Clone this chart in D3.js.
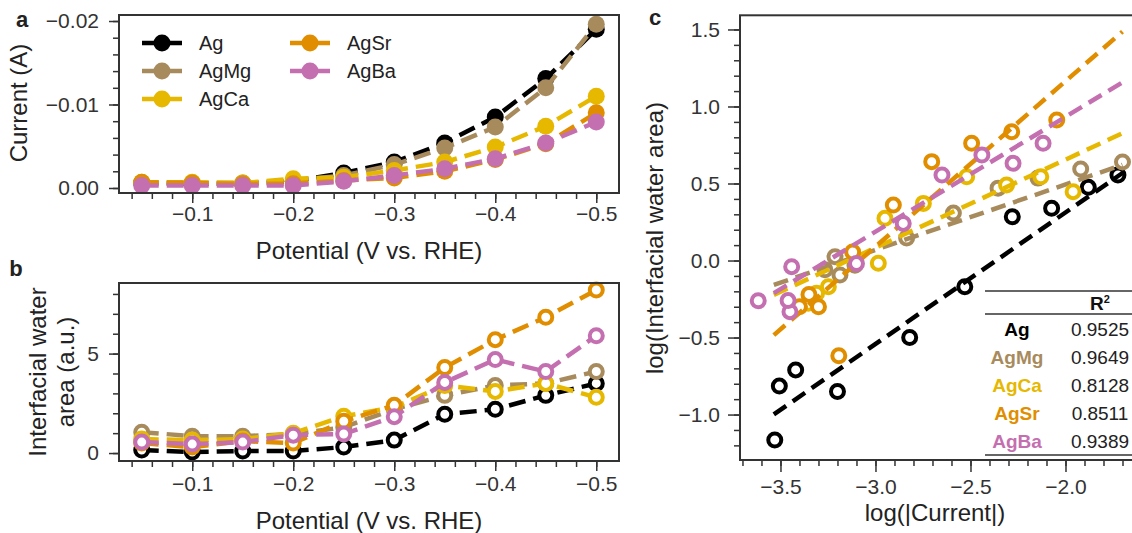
<!DOCTYPE html>
<html>
<head>
<meta charset="utf-8">
<script src="https://cdn.jsdelivr.net/npm/d3@7"></script>
<style>
  body { margin: 0; background: #fff; }
  svg { display: block; font-family: "Liberation Sans", Arial, sans-serif; }
</style>
</head>
<body>
<div id="chart"></div>
<script>
// ---- data ----
var names = ["Ag", "AgMg", "AgCa", "AgSr", "AgBa"];
var colors = ["#000000", "#a88b5c", "#e6b800", "#e08e00", "#c46fb0"];
var potentials = [-0.05, -0.1, -0.15, -0.2, -0.25, -0.3, -0.35, -0.4, -0.45, -0.5];

// panel a: current (A)
var currentAg   = [-0.0006, -0.0005, -0.0005, -0.0008, -0.0018, -0.0031, -0.0054, -0.0085, -0.0131, -0.0190];
var currentAgMg = [-0.0006, -0.0006, -0.0006, -0.0009, -0.0015, -0.0028, -0.0048, -0.0073, -0.0120, -0.0196];
var currentAgCa = [-0.0007, -0.0007, -0.0006, -0.0011, -0.0013, -0.0021, -0.0031, -0.0049, -0.0074, -0.0110];
var currentAgSr = [-0.0007, -0.0006, -0.0005, -0.0005, -0.0009, -0.0012, -0.0020, -0.0034, -0.0053, -0.0090];
var currentAgBa = [-0.0003, -0.0003, -0.0003, -0.0003, -0.0008, -0.0015, -0.0023, -0.0035, -0.0054, -0.0079];

// panel b: interfacial water area (a.u.)
var areaAg   = [0.15, 0.05, 0.1, 0.1, 0.3, 0.65, 1.95, 2.2, 2.9, 3.5];
var areaAgMg = [1.05, 0.85, 0.85, 0.95, 1.3, 2.2, 2.9, 3.4, 3.5, 4.1];
var areaAgCa = [0.7, 0.65, 0.7, 1.0, 1.85, 2.3, 3.4, 3.1, 3.5, 2.8];
var areaAgSr = [0.5, 0.3, 0.6, 0.5, 1.6, 2.4, 4.3, 5.7, 6.83, 8.2];
var areaAgBa = [0.55, 0.45, 0.55, 0.9, 0.96, 1.83, 3.55, 4.7, 4.1, 5.9];

// panel c: log-log points
var logCurAg   = [-3.53, -3.506, -3.42, -3.20, -2.82, -2.53, -2.28, -2.073, -1.88, -1.724];
var logAreaAg  = [-1.165, -0.815, -0.71, -0.85, -0.50, -0.17, 0.284, 0.339, 0.475, 0.555];
var logCurAgMg  = [-3.266, -3.213, -3.187, -3.108, -2.836, -2.59, -2.355, -2.145, -1.92, -1.70];
var logAreaAgMg = [-0.06, 0.025, -0.094, -0.03, 0.146, 0.308, 0.47, 0.535, 0.594, 0.64];
var logCurAgCa  = [-3.354, -3.31, -3.248, -2.985, -2.95, -2.748, -2.52, -2.31, -2.13, -1.96];
var logAreaAgCa = [-0.278, -0.213, -0.17, -0.018, 0.274, 0.371, 0.544, 0.49, 0.544, 0.447];
var logCurAgSr  = [-3.40, -3.193, -3.35, -3.30, -3.12, -2.906, -2.704, -2.494, -2.283, -2.046];
var logAreaAgSr = [-0.30, -0.618, -0.22, -0.30, 0.055, 0.36, 0.642, 0.761, 0.836, 0.912];
var logCurAgBa  = [-3.617, -3.45, -3.46, -3.441, -3.10, -2.854, -2.65, -2.44, -2.276, -2.118];
var logAreaAgBa = [-0.261, -0.332, -0.26, -0.04, -0.02, 0.241, 0.555, 0.685, 0.631, 0.761];

// linear fits (slope, intercept) and R2
var fitSlope = [0.854, 0.425, 0.572, 1.074, 0.746];
var fitIntercept = [2.020, 1.344, 1.799, 3.312, 2.425];
var fitRange = [-3.535, -1.70];
var r2Values = ["0.9525", "0.9649", "0.8128", "0.8511", "0.9389"];

// ticks
var potMajor = [-0.1, -0.2, -0.3, -0.4, -0.5];
var potMinor = d3.range(-0.04, -0.5001, -0.02);
var curMajor = [0, -0.01, -0.02];
var curMinor = d3.range(0, -0.0201, -0.002);
var areaMajor = [0, 5];
var areaMinor = d3.range(0, 8.01, 1);
var logCurMajor = [-3.5, -3.0, -2.5, -2.0];
var logCurMinor = d3.range(-3.7, -1.55, 0.1);
var logAreaMajor = [-1.0, -0.5, 0.0, 0.5, 1.0, 1.5];
var logAreaMinor = d3.range(-1.2, 1.51, 0.1);

var currents = [currentAg, currentAgMg, currentAgCa, currentAgSr, currentAgBa];
var areas = [areaAg, areaAgMg, areaAgCa, areaAgSr, areaAgBa];
var logCur = [logCurAg, logCurAgMg, logCurAgCa, logCurAgSr, logCurAgBa];
var logArea = [logAreaAg, logAreaAgMg, logAreaAgCa, logAreaAgSr, logAreaAgBa];

// ---- drawing ----
var svg = d3.select("#chart").append("svg")
    .attr("width", 1132)
    .attr("height", 533);

var tickColor = "#333";

function xAxis(scale, yPos, majors, minors, fmt, majLen, minLen, pad) {
    svg.append("g")
        .attr("transform", "translate(0," + yPos + ")")
        .call(d3.axisBottom(scale).tickValues(minors).tickSize(minLen).tickFormat(""))
        .call(function(g) { g.select(".domain").remove(); g.selectAll("line").attr("stroke", tickColor).attr("stroke-width", 1.5); });
    svg.append("g")
        .attr("transform", "translate(0," + yPos + ")")
        .call(d3.axisBottom(scale).tickValues(majors).tickSize(majLen).tickPadding(pad).tickFormat(fmt))
        .call(function(g) {
            g.select(".domain").remove();
            g.selectAll("line").attr("stroke", tickColor).attr("stroke-width", 1.5);
            g.selectAll("text").attr("fill", tickColor).style("font-size", "21px").style("font-family", "Liberation Sans, Arial, sans-serif");
        });
}

function yAxis(scale, xPos, majors, minors, fmt, majLen, minLen, pad) {
    svg.append("g")
        .attr("transform", "translate(" + xPos + ",0)")
        .call(d3.axisLeft(scale).tickValues(minors).tickSize(minLen).tickFormat(""))
        .call(function(g) { g.select(".domain").remove(); g.selectAll("line").attr("stroke", tickColor).attr("stroke-width", 1.5); });
    svg.append("g")
        .attr("transform", "translate(" + xPos + ",0)")
        .call(d3.axisLeft(scale).tickValues(majors).tickSize(majLen).tickPadding(pad).tickFormat(fmt))
        .call(function(g) {
            g.select(".domain").remove();
            g.selectAll("line").attr("stroke", tickColor).attr("stroke-width", 1.5);
            g.selectAll("text").attr("fill", tickColor).style("font-size", "21px").style("font-family", "Liberation Sans, Arial, sans-serif");
        });
}

function frame(x0, y0, x1, y1) {
    svg.append("rect")
        .attr("x", x0).attr("y", y0)
        .attr("width", x1 - x0).attr("height", y1 - y0)
        .attr("fill", "none")
        .attr("stroke", "#333")
        .attr("stroke-width", 2);
}

function label(text, x, y, rotate, size, weight) {
    var t = svg.append("text")
        .attr("text-anchor", "middle")
        .attr("fill", "#222")
        .style("font-size", size + "px")
        .style("font-weight", weight || "normal")
        .text(text);
    if (rotate) t.attr("transform", "translate(" + x + "," + y + ") rotate(-90)");
    else t.attr("x", x).attr("y", y);
    return t;
}

var fmtPot = d3.format(".1f");

// ===== panel a =====
var xa = d3.scaleLinear().domain([-0.0275, -0.5225]).range([119, 619]);
var ya = d3.scaleLinear().domain([0.0006, -0.02072]).range([193, 15]);

xAxis(xa, 193, potMajor, potMinor, fmtPot, 10, 6, 3);
yAxis(ya, 119, curMajor, curMinor, d3.format(".2f"), 10, 6, 10);

var lineA = d3.line()
    .x(function(d, i) { return xa(potentials[i]); })
    .y(function(d) { return ya(d); });

names.forEach(function(n, s) {
    svg.append("path")
        .datum(currents[s])
        .attr("fill", "none")
        .attr("stroke", colors[s])
        .attr("stroke-width", 4.5)
        .attr("stroke-dasharray", "17,8")
        .attr("d", lineA);
    svg.append("g").selectAll("circle")
        .data(currents[s])
        .join("circle")
        .attr("cx", function(d, i) { return xa(potentials[i]); })
        .attr("cy", function(d) { return ya(d); })
        .attr("r", 8.5)
        .attr("fill", colors[s]);
});
frame(119, 15, 619, 193);

// legend
var legendPos = [[142, 43], [142, 71], [142, 99], [290, 43], [290, 71]];
names.forEach(function(n, s) {
    var lg = svg.append("g").attr("transform", "translate(" + legendPos[s][0] + "," + legendPos[s][1] + ")");
    lg.append("line").attr("x1", 0).attr("x2", 40).attr("y1", 0).attr("y2", 0)
        .attr("stroke", colors[s]).attr("stroke-width", 4.5);
    lg.append("circle").attr("cx", 20).attr("cy", 0).attr("r", 8.5).attr("fill", colors[s]);
    lg.append("text").attr("x", 57).attr("y", 7)
        .attr("fill", "#222")
        .style("font-size", "20px")
        .text(n);
});

label("Current (A)", 27, 103, true, 24);
label("Potential (V vs. RHE)", 369, 259, false, 24);
label("a", 22, 27, false, 22, "bold");

// ===== panel b =====
var xb = d3.scaleLinear().domain([-0.0275, -0.5225]).range([119, 619]);
var yb = d3.scaleLinear().domain([-0.4, 8.55]).range([461, 283]);

xAxis(xb, 461, potMajor, potMinor, fmtPot, 10, 6, 5);
yAxis(yb, 119, areaMajor, areaMinor, d3.format("d"), 10, 6, 10);

var lineB = d3.line()
    .x(function(d, i) { return xb(potentials[i]); })
    .y(function(d) { return yb(d); });

names.forEach(function(n, s) {
    svg.append("path")
        .datum(areas[s])
        .attr("fill", "none")
        .attr("stroke", colors[s])
        .attr("stroke-width", 4.5)
        .attr("stroke-dasharray", "17,8")
        .attr("d", lineB);
    svg.append("g").selectAll("circle")
        .data(areas[s])
        .join("circle")
        .attr("cx", function(d, i) { return xb(potentials[i]); })
        .attr("cy", function(d) { return yb(d); })
        .attr("r", 6.5)
        .attr("fill", "#fff")
        .attr("stroke", colors[s])
        .attr("stroke-width", 4);
});
frame(119, 283, 619, 461);

var yl = svg.append("text")
    .attr("transform", "translate(0,372) rotate(-90)")
    .attr("text-anchor", "middle")
    .attr("fill", "#222")
    .style("font-size", "24px");
yl.append("tspan").attr("x", 0).attr("y", 46).text("Interfacial water");
yl.append("tspan").attr("x", 0).attr("y", 74).text("area (a.u.)");
label("Potential (V vs. RHE)", 369, 529, false, 24);
label("b", 16, 276, false, 22, "bold");

// ===== panel c =====
var xc = d3.scaleLinear().domain([-3.713, -1.55]).range([740, 1151]);
var yc = d3.scaleLinear().domain([-1.295, 1.592]).range([460, 15.3]);

xAxis(xc, 460, logCurMajor, logCurMinor, d3.format(".1f"), 12, 6, 7);
yAxis(yc, 740, logAreaMajor, logAreaMinor, d3.format(".1f"), 12, 6, 8);

names.forEach(function(n, s) {
    svg.append("g").selectAll("circle")
        .data(logArea[s])
        .join("circle")
        .attr("cx", function(d, i) { return xc(logCur[s][i]); })
        .attr("cy", function(d) { return yc(d); })
        .attr("r", 6.5)
        .attr("fill", "#fff")
        .attr("stroke", colors[s])
        .attr("stroke-width", 4);
    svg.append("line")
        .attr("x1", xc(fitRange[0]))
        .attr("y1", yc(fitSlope[s] * fitRange[0] + fitIntercept[s]))
        .attr("x2", xc(fitRange[1]))
        .attr("y2", yc(fitSlope[s] * fitRange[1] + fitIntercept[s]))
        .attr("stroke", colors[s])
        .attr("stroke-width", 4.5)
        .attr("stroke-dasharray", "15,8");
});
frame(740, 15.3, 1160, 460);

// R2 table
var tableX = 985;
[291, 314, 455].forEach(function(yy) {
    svg.append("line").attr("x1", tableX).attr("x2", 1132).attr("y1", yy).attr("y2", yy)
        .attr("stroke", "#333").attr("stroke-width", 1.5);
});
var r2h = svg.append("text").attr("x", 1100).attr("y", 310).attr("text-anchor", "middle")
    .attr("fill", "#111").style("font-size", "19px").style("font-weight", "bold");
r2h.append("tspan").text("R");
r2h.append("tspan").attr("dy", -7).style("font-size", "11px").text("2");
var rowY = [336, 364, 392, 420, 448];
names.forEach(function(n, s) {
    svg.append("text").attr("x", 1017).attr("y", rowY[s]).attr("text-anchor", "middle")
        .attr("fill", colors[s]).style("font-size", "19px").style("font-weight", "bold").text(n);
    svg.append("text").attr("x", 1100).attr("y", rowY[s]).attr("text-anchor", "middle")
        .attr("fill", "#222").style("font-size", "19px").text(r2Values[s]);
});

label("log(Interfacial water area)", 663, 238, true, 24);
label("log(|Current|)", 935, 521, false, 24);
label("c", 655, 25, false, 22, "bold");
</script>
</body>
</html>
